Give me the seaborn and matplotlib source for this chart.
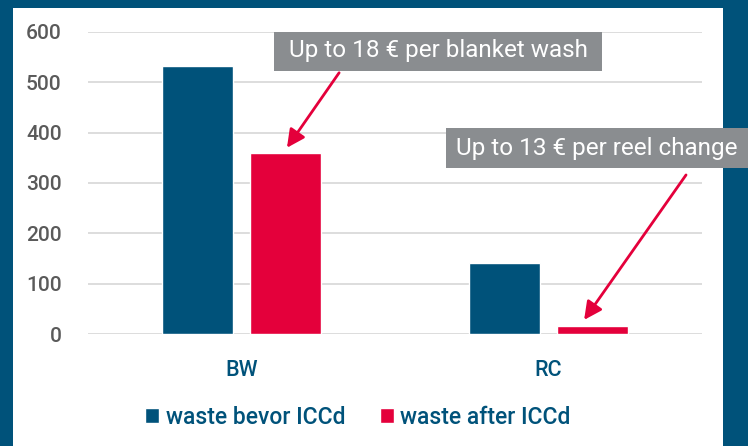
import matplotlib
matplotlib.use("Agg")
import matplotlib.pyplot as plt
from matplotlib.patches import Rectangle
import seaborn as sns
import pandas as pd

categories = ["BW", "RC"]
series_names = ["waste bevor ICCd", "waste after ICCd"]
before_vals = [533, 141]
after_vals = [360, 15]
y_ticks = [0, 100, 200, 300, 400, 500, 600]
note_bw = "Up to 18 € per blanket wash"
note_rc = "Up to 13 € per reel change"

BLUE = "#00527A"
RED = "#E4003B"
GRAY_BOX = "#8A8D90"
GRID = "#DADADA"
TICK_GRAY = "#5A5A5A"

sns.set_theme(style="white")
plt.rcParams['font.family'] = ['Roboto', 'DejaVu Sans']
plt.rcParams['font.weight'] = 'medium'

df = pd.DataFrame({
    "cat": categories * 2,
    "series": [series_names[0]] * 2 + [series_names[1]] * 2,
    "value": before_vals + after_vals,
})

W, H = 748, 446
fig = plt.figure(figsize=(W / 100, H / 100), dpi=100, facecolor=BLUE)
# white panel
fig.patches.append(Rectangle((13 / W, 0), (723 - 13) / W, (H - 8) / H,
                             transform=fig.transFigure, facecolor="white",
                             edgecolor="none", zorder=-10))

ax = fig.add_axes([88 / W, (H - 334) / H, (702 - 88) / W, (334 - 32) / H])
ax.set_facecolor("none")
sns.barplot(data=df, x="cat", y="value", hue="series", palette=[BLUE, RED],
            width=0.573, gap=0.2, ax=ax, saturation=1, legend=True)
ax.set_xlim(-0.5, 1.5)
ax.set_ylim(0, 600)
ax.set_yticks(y_ticks)
ax.yaxis.grid(True, color=GRID, linewidth=1.3)
ax.set_axisbelow(True)
for s in ax.spines.values():
    s.set_visible(False)
ax.set_xlabel("")
ax.set_ylabel("")
ax.tick_params(axis="y", length=0, pad=19, labelsize=15, labelcolor=TICK_GRAY)
ax.tick_params(axis="x", length=0, pad=19, labelsize=15.5, labelcolor=BLUE)

handles, labels = ax.get_legend_handles_labels()
ax.get_legend().remove()
fig.legend(handles, labels, loc="center", bbox_to_anchor=(358 / W, (H - 417) / H),
           ncol=2, frameon=False, fontsize=16.5, handlelength=0.6, handleheight=0.6,
           handletextpad=0.3, columnspacing=1.5, labelcolor=BLUE)

# annotation boxes
fig.patches.append(Rectangle((274 / W, (H - 71) / H), (602 - 274) / W, 39 / H,
                             transform=fig.transFigure, facecolor=GRAY_BOX,
                             edgecolor="none", zorder=5))
fig.text(438 / W, (H - 51) / H, note_bw, color="white", fontsize=17.5,
         fontweight="normal", ha="center", va="center", zorder=6)
fig.patches.append(Rectangle((446 / W, (H - 168) / H), (W - 446) / W, 40 / H,
                             transform=fig.transFigure, facecolor=GRAY_BOX,
                             edgecolor="none", zorder=5))
fig.text(456 / W, (H - 148) / H, note_rc, color="white", fontsize=17.5,
         fontweight="normal", ha="left", va="center", zorder=6)

arrowprops = dict(arrowstyle="-|>,head_length=0.9,head_width=0.45", color=RED,
                  lw=2, shrinkA=0, shrinkB=0)
ax.annotate("", xy=(0.148, 370), xytext=(0.318, 519), arrowprops=arrowprops,
            annotation_clip=False)
ax.annotate("", xy=(1.116, 28), xytext=(1.448, 316), arrowprops=arrowprops,
            annotation_clip=False)

fig.savefig("out.png", dpi=100, facecolor=BLUE)
